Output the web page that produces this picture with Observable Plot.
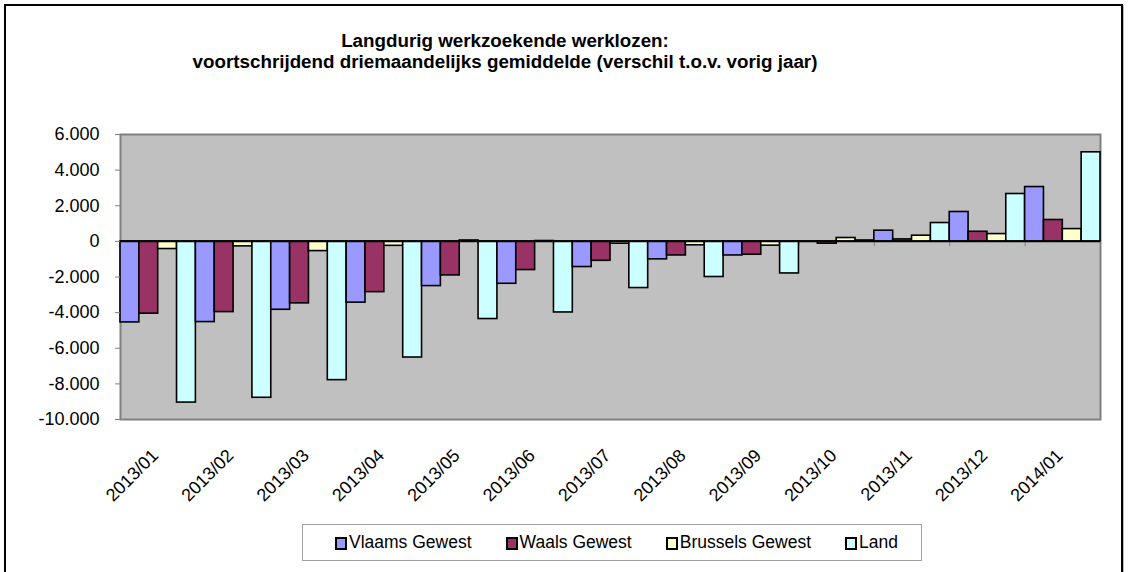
<!DOCTYPE html>
<html>
<head>
<meta charset="utf-8">
<script src="https://cdn.jsdelivr.net/npm/d3@7"></script>
<script src="https://cdn.jsdelivr.net/npm/@observablehq/plot@0.6"></script>
<style>
  html, body { margin: 0; padding: 0; background: #fff; }
  body { width: 1129px; height: 572px; overflow: hidden; position: relative; font-family: "Liberation Sans", Arial, sans-serif; }
  #frame { position: absolute; left: 4px; top: 4px; width: 1115px; height: 580px; border: 2.5px solid #000; box-shadow: 1px 1px 0 #bbb; }
  #title { position: absolute; left: 0; top: 30px; width: 1010px; text-align: center; font-weight: bold; font-size: 18.8px; line-height: 21px; color: #000; }
  #chart { position: absolute; left: 0; top: 0; }
  #legend { position: absolute; left: 302px; top: 524px; width: 620px; height: 37px; border: 1px solid #a0a0a0; box-sizing: border-box; display: flex; align-items: center; padding-left: 32px; gap: 34px; font-size: 17.5px; }
  .item { display: flex; align-items: center; }
  .sw { width: 8px; height: 9px; border: 2px solid #000; margin-right: 2px; margin-top: 1px; }
</style>
</head>
<body>
<div id="frame"></div>
<div id="chart"></div>
<div id="title">Langdurig werkzoekende werklozen:<br>voortschrijdend driemaandelijks gemiddelde (verschil t.o.v. vorig jaar)</div>
<div id="legend"></div>
<script>
const months = ["2013/01","2013/02","2013/03","2013/04","2013/05","2013/06","2013/07","2013/08","2013/09","2013/10","2013/11","2013/12","2014/01"];
const seriesNames = ["Vlaams Gewest","Waals Gewest","Brussels Gewest","Land"];
const seriesColors = ["#9999FF","#993366","#FFFFCC","#CCFFFF"];
const vlaams   = [-4550,-4530,-3840,-3440,-2510,-2380,-1440,-1010,-790,-20,600,1650,3050];
const waals    = [-4060,-3970,-3480,-2850,-1910,-1610,-1090,-790,-750,-130,110,540,1200];
const brussels = [-430,-280,-545,-250,50,20,-130,-220,-240,190,320,410,690];
const land     = [-9050,-8780,-7790,-6520,-4360,-3990,-2620,-2000,-1800,50,1030,2660,5000];
const yTicks = [-10000,-8000,-6000,-4000,-2000,0,2000,4000,6000];

const seriesValues = [vlaams, waals, brussels, land];
const rows = [];
months.forEach((m, i) => {
  seriesNames.forEach((s, k) => {
    rows.push({month: m, i, k, series: s, value: seriesValues[k][i]});
  });
});

const nl = d3.formatLocale({decimal: ",", thousands: ".", grouping: [3], currency: ["", ""], minus: "-"});
const fmt = nl.format(",");

const plot = Plot.plot({
  width: 1129,
  height: 572,
  marginLeft: 120,
  marginRight: 29,
  marginTop: 134,
  marginBottom: 153,
  style: {fontFamily: "'Liberation Sans', Arial, sans-serif", fontSize: "18px", background: "transparent", overflow: "visible"},
  x: {type: "linear", domain: [0, months.length], axis: null},
  y: {domain: [-10000, 6000], axis: null},
  color: {domain: seriesNames, range: seriesColors},
  marks: [
    Plot.frame({fill: "#C0C0C0", stroke: "#808080", strokeWidth: 2}),
    Plot.ruleX(d3.range(months.length + 1), {y1: 0, y2: -300, stroke: "#808080", strokeWidth: 1}),
    Plot.rect(rows, {
      x1: d => d.i + d.k / 4,
      x2: d => d.i + (d.k + 1) / 4,
      y1: 0,
      y2: "value",
      fill: "series",
      stroke: "#000",
      strokeWidth: 1.6
    }),
    Plot.ruleY([0], {stroke: "#000", strokeWidth: 1.5}),
    Plot.axisY({ticks: yTicks, tickFormat: fmt, tickSize: 5, tickPadding: 16, stroke: "#808080", fill: "#000", fontSize: 18, label: null}),
    Plot.axisX(months.map((m, i) => i + 0.5), {
      tickFormat: d => months[Math.floor(d)],
      tickRotate: -45,
      tickSize: 0,
      tickPadding: 33,
      dx: -3,
      fill: "#000",
      fontSize: 18,
      label: null
    })
  ]
});
document.getElementById("chart").appendChild(plot);

const legend = document.getElementById("legend");
seriesNames.forEach((s, k) => {
  const it = document.createElement("div");
  it.className = "item";
  const sw = document.createElement("div");
  sw.className = "sw";
  sw.style.background = seriesColors[k];
  const tx = document.createElement("span");
  tx.textContent = s;
  it.appendChild(sw);
  it.appendChild(tx);
  legend.appendChild(it);
});
</script>
</body>
</html>
